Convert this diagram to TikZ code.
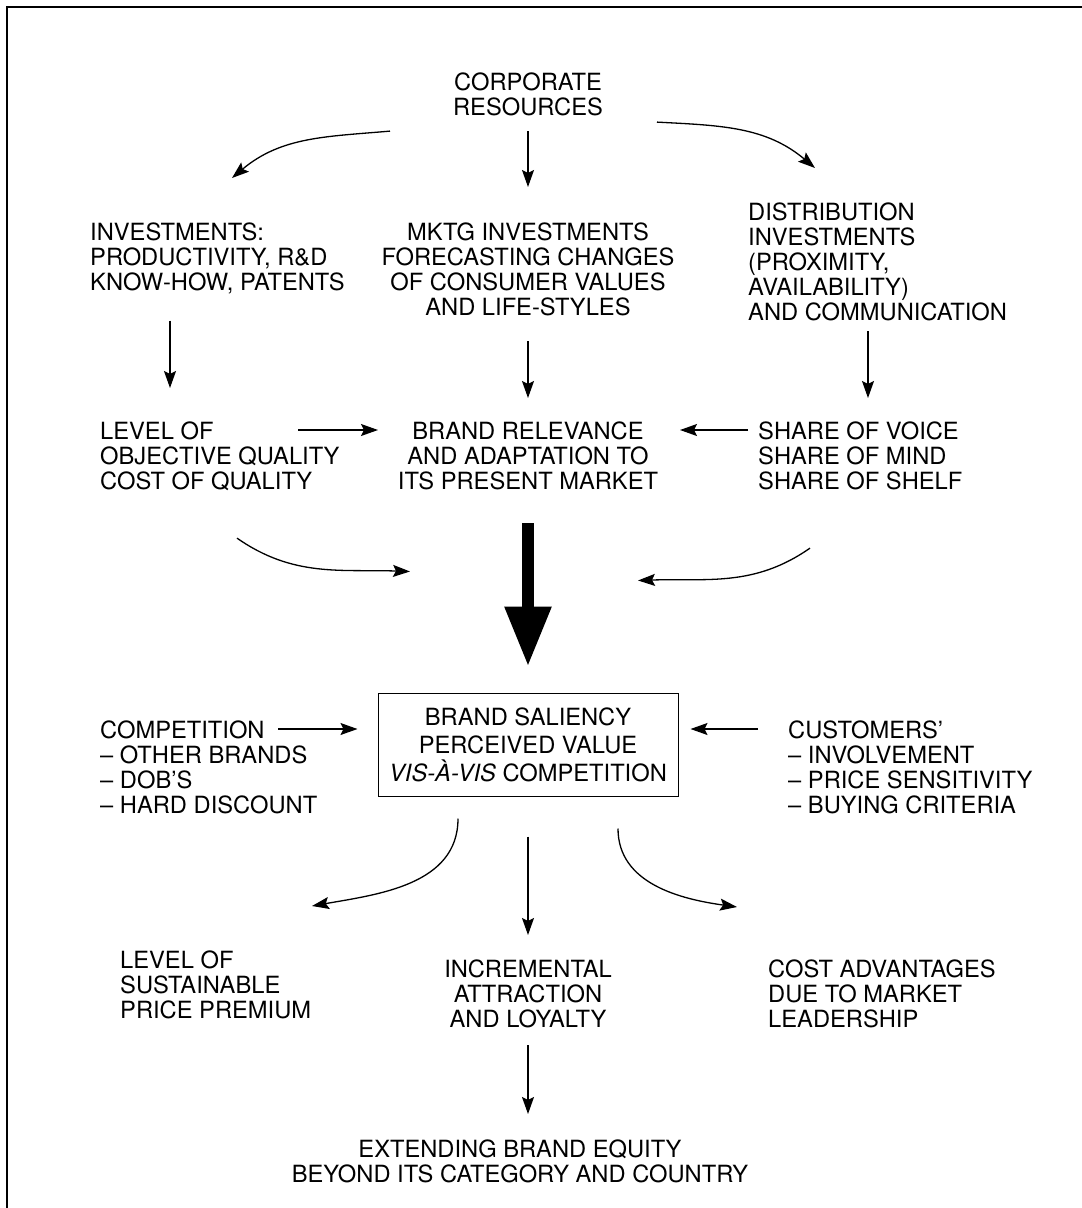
\documentclass[tikz,border=0pt]{standalone}
\usepackage{fontspec}
\setmainfont{TeX Gyre Heros}
\usetikzlibrary{arrows.meta}
\usetikzlibrary{calc}

\tikzset{
  txt/.style={inner sep=0pt, font=\fontsize{23.7}{25}\selectfont,
    execute at begin node=\strut, execute at end node=\strut},
  lft/.style={txt, align=left, anchor=north west},
  ctr/.style={txt, align=center, anchor=north},
  arr/.style={line width=1.3pt, -{Stealth[length=17pt, width=12pt, inset=3pt]}},
  fat/.style={line width=12pt, -{Triangle[length=60pt, width=44pt]}},
}

\begin{document}
\begin{tikzpicture}[x=1pt, y=1pt]

  \useasboundingbox (0,0) rectangle (1082,-1208);

  % frame
  \draw[line width=2.5pt] (7,-1212) -- (7,-7) -- (1086,-7);

  % top
  \node[ctr] (corp) at (528,-73) {CORPORATE\\RESOURCES};

  \node[lft] (inv) at (90,-223) {INVESTMENTS:\\PRODUCTIVITY, R\&D\\KNOW-HOW, PATENTS};
  \node[ctr] (mktg) at (528,-223) {MKTG INVESTMENTS\\FORECASTING CHANGES\\OF CONSUMER VALUES\\AND LIFE-STYLES};
  \node[lft] (dist) at (748,-203) {DISTRIBUTION\\INVESTMENTS\\(PROXIMITY,\\AVAILABILITY)\\AND COMMUNICATION};

  \node[lft] (lvl) at (100,-422) {LEVEL OF\\OBJECTIVE QUALITY\\COST OF QUALITY};
  \node[ctr] (rel) at (528,-422) {BRAND RELEVANCE\\AND ADAPTATION TO\\ITS PRESENT MARKET};
  \node[lft] (share) at (758,-422) {SHARE OF VOICE\\SHARE OF MIND\\SHARE OF SHELF};

  % saliency box
  \node[draw, line width=1pt, minimum width=300pt, minimum height=103pt, inner sep=0pt,
        align=center, font=\fontsize{23.7}{25}\selectfont] (salien) at (528,-745)
        {BRAND SALIENCY\\[3pt]PERCEIVED VALUE\\[3pt]\textit{VIS-À-VIS} COMPETITION};
  \node[lft] (comp) at (100,-721) {COMPETITION\\– OTHER BRANDS\\– DOB'S\\– HARD DISCOUNT};
  \node[lft] (cust) at (788,-721) {CUSTOMERS'\\– INVOLVEMENT\\– PRICE SENSITIVITY\\– BUYING CRITERIA};

  % results
  \node[lft] (prem) at (120,-951) {LEVEL OF\\SUSTAINABLE\\PRICE PREMIUM};
  \node[ctr] (incr) at (528,-960) {INCREMENTAL\\ATTRACTION\\AND LOYALTY};
  \node[lft] (cost) at (768,-960) {COST ADVANTAGES\\DUE TO MARKET\\LEADERSHIP};
  \node[ctr] (ext) at (520,-1140) {EXTENDING BRAND EQUITY\\BEYOND ITS CATEGORY AND COUNTRY};

  % resources to investments
  \draw[arr] ($(corp.south)+(-138,-7.5)$) to[out=185, in=40] ($(inv.north west)+(142,45)$);
  \draw[arr, shorten <=7.5pt, shorten >=36pt] (corp) -- (mktg);
  \draw[arr] ($(corp.south)+(129,1.5)$) to[out=-3, in=140] ($(dist.north west)+(67,35)$);

  % investments to second row
  \draw[arr] ($(inv.south west)+(80,-22)$) -- ($(lvl.north west)+(70,34)$);
  \draw[arr, shorten <=17.5pt, shorten >=24pt] (mktg) -- (rel);
  \draw[arr] ($(dist.south west)+(120,-2.5)$) -- ($(share.north west)+(110,24)$);

  \draw[arr] ($(lvl.north west)+(198,-8)$) -- ($(rel.north)+(-150,-8)$);
  \draw[arr] ($(share.north west)+(-10,-8)$) -- ($(rel.north)+(152,-8)$);

  % into saliency
  \draw[arr] ($(lvl.south west)+(137,-40.5)$) to[out=-35, in=178] ($(salien.north)+(-118,121.5)$);
  \draw[arr] ($(share.south west)+(52,-50.5)$) to[out=-145, in=2] ($(salien.north)+(110,112.5)$);
  \draw[fat, shorten <=25.5pt, shorten >=26.5pt] (rel) -- (salien);

  \draw[arr] ($(comp.north west)+(178,-8)$) -- ($(salien.west)+(-20,16)$);
  \draw[arr] ($(cust.north west)+(-30,-8)$) -- ($(salien.east)+(12,16)$);

  % out of saliency
  \draw[arr] ($(salien.south)+(-70,-21.5)$) to[out=-90, in=10] ($(prem.north west)+(192,45)$);
  \draw[arr, shorten <=39.5pt, shorten >=25pt] (salien) -- (incr);
  \draw[arr] ($(salien.south)+(90,-31.5)$) to[out=-90, in=172] ($(cost.north west)+(-31,53)$);

  \draw[arr, shorten <=9.5pt, shorten >=26pt] (incr.south) -- (incr.south |- ext.north);

\end{tikzpicture}
\end{document}
